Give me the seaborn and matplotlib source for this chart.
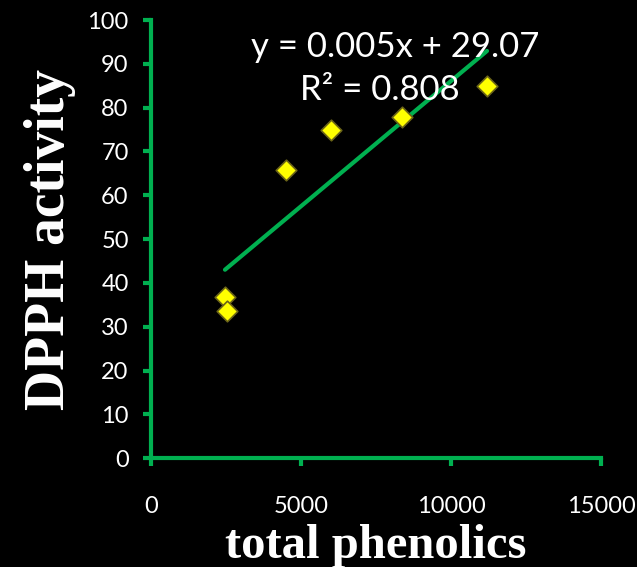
import numpy as np
import pandas as pd
import matplotlib
matplotlib.use("Agg")
import matplotlib.pyplot as plt
import seaborn as sns

# Total phenolics vs. DPPH radical scavenging activity
total_phenolics = [2467, 2533, 4500, 6000, 8367, 11200]
dpph_activity = [36.8, 33.6, 65.8, 74.9, 77.9, 84.9]
x_ticks = [0, 5000, 10000, 15000]
y_ticks = list(range(0, 101, 10))
equation_label = "y = 0.005x + 29.07"
r2_label = "R² = 0.808"

df = pd.DataFrame({"total phenolics": total_phenolics, "DPPH activity": dpph_activity})

sns.set_style("dark")
plt.rcParams["font.family"] = ["Lato", "DejaVu Sans"]

green = "#00B050"
fig = plt.figure(figsize=(6.37, 5.67), dpi=100, facecolor="black")
ax = fig.add_axes([0.237, 0.192, 0.7065, 0.7727])
ax.set_facecolor("black")

sns.regplot(data=df, x="total phenolics", y="DPPH activity", ax=ax, ci=None,
            scatter=False, line_kws=dict(color=green, lw=3, solid_capstyle="round"))
sns.scatterplot(data=df, x="total phenolics", y="DPPH activity", ax=ax,
                marker="D", s=110, color="#FFFF00", edgecolor="#6B6418",
                linewidth=1.2, zorder=5)

ax.set_xlim(0, 15000)
ax.set_ylim(0, 100)
ax.set_xticks(x_ticks)
ax.set_yticks(y_ticks)
ax.grid(False)

for side in ["top", "right"]:
    ax.spines[side].set_visible(False)
for side in ["left", "bottom"]:
    ax.spines[side].set_visible(True)
    ax.spines[side].set_color(green)
    ax.spines[side].set_linewidth(3)

ax.tick_params(axis="both", bottom=True, left=True, colors=green, width=3,
               length=6, direction="out", labelcolor="white", labelsize=17)
ax.tick_params(axis="x", pad=21)
ax.tick_params(axis="y", pad=10)

ax.set_xlabel("total phenolics", labelpad=5, family="Liberation Serif",
              weight="bold", color="white", size=35)
ax.set_ylabel("DPPH activity", labelpad=8, family="Liberation Serif",
              weight="bold", color="white", size=40)

ax.text(0.542, 0.938, equation_label, transform=ax.transAxes, ha="center",
        va="center", color="white", fontsize=25)
ax.text(0.509, 0.84, r2_label, transform=ax.transAxes, ha="center",
        va="center", color="white", fontsize=25)

fig.savefig("out.png", dpi=100, facecolor="black")
